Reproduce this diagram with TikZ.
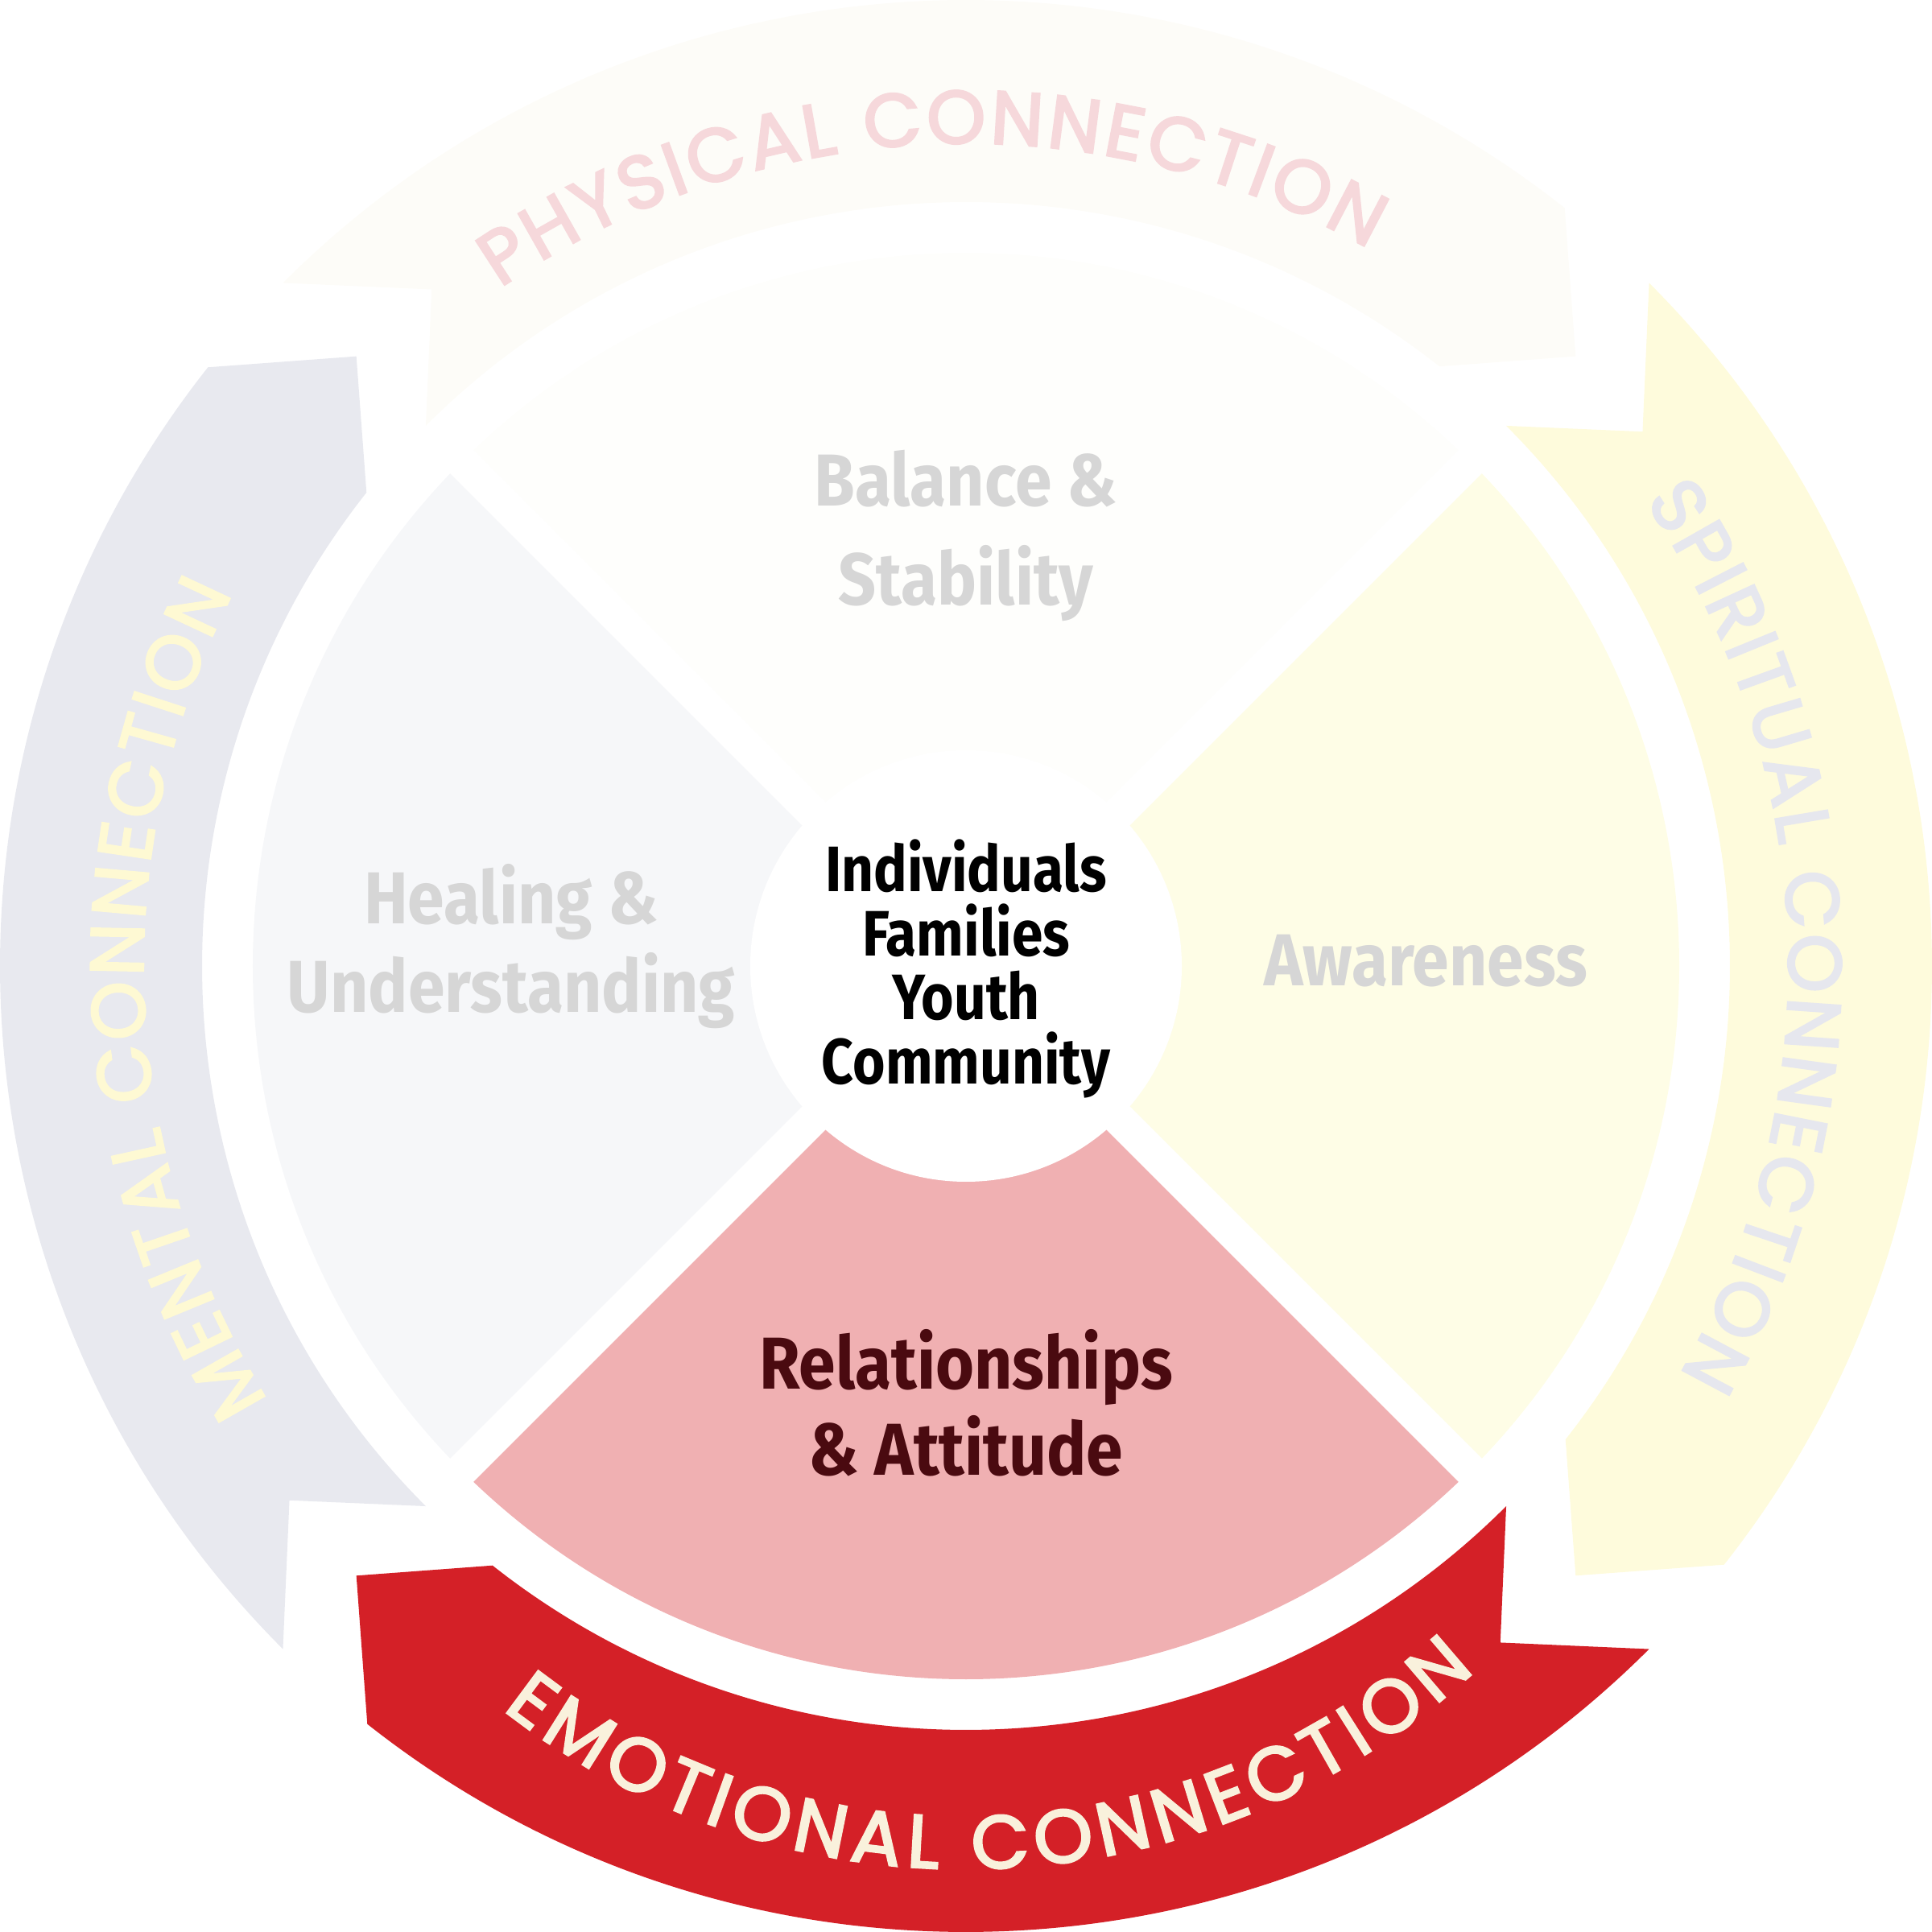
\documentclass[tikz,border=0pt]{standalone}
\usepackage{fontspec}
\setmainfont{Fira Sans}
\newfontfamily\lblfont{Fira Sans}[FakeStretch=0.9]
\newfontfamily\hubfont{Fira Sans}[FakeStretch=0.87]
\newfontfamily\ringfont{Poppins}[FakeBold=3]
\usetikzlibrary{decorations.text,calc}
\definecolor{emoArrow}{HTML}{D42027}
\definecolor{emoText}{HTML}{F9F1DC}
\definecolor{emoSector}{HTML}{F0B0B2}
\definecolor{emoLabel}{HTML}{4A0A10}
\definecolor{menArrow}{HTML}{E8E9EF}
\definecolor{menText}{HTML}{FEF9D3}
\definecolor{menSector}{HTML}{F6F7F9}
\definecolor{phyArrow}{HTML}{FDFCF8}
\definecolor{phyText}{HTML}{F6D8DB}
\definecolor{phySector}{HTML}{FEFEFC}
\definecolor{spiArrow}{HTML}{FEFBDC}
\definecolor{spiText}{HTML}{E6E7EE}
\definecolor{spiSector}{HTML}{FEFDE6}
\definecolor{greyLabel}{HTML}{D6D6D6}
\tikzset{
  seclabel/.style={font=\lblfont\bfseries\fontsize{26}{28}\selectfont, text=greyLabel, inner sep=0, anchor=base},
  hublabel/.style={font=\hubfont\bfseries\fontsize{22.7}{24}\selectfont, text=black, inner sep=0, anchor=base},
  ringtext/.style n args={2}{decorate, decoration={text along path, text color=#1,
      text={|\ringfont\fontsize{26.5}{28}\selectfont|#2}, text align={fit to path}}},
  gapline/.style={draw=white, line width=0.41cm}
}
\begin{document}
\begin{tikzpicture}
\useasboundingbox (-12,-12) rectangle (12,12);
% ring arrows (clockwise): tail corners at t, notch at t-6.7, head base at h+6.7, tip at h
\fill[phyArrow] (135:12) arc[start angle=135, end angle=51.7, radius=12] -- (45:10.71) -- (51.7:9.49) arc[start angle=51.7, end angle=135, radius=9.49] -- (128.3:10.71) -- cycle;
\fill[spiArrow] (45:12) arc[start angle=45, end angle=-38.3, radius=12] -- (-45:10.71) -- (-38.3:9.49) arc[start angle=-38.3, end angle=45, radius=9.49] -- (38.3:10.71) -- cycle;
\fill[emoArrow] (315:12) arc[start angle=315, end angle=231.7, radius=12] -- (225:10.71) -- (231.7:9.49) arc[start angle=231.7, end angle=315, radius=9.49] -- (308.3:10.71) -- cycle;
\fill[menArrow] (225:12) arc[start angle=225, end angle=141.7, radius=12] -- (135:10.71) -- (141.7:9.49) arc[start angle=141.7, end angle=225, radius=9.49] -- (218.3:10.71) -- cycle;
% sectors
\fill[phySector] (0,0) -- (45:8.86) arc[start angle=45, end angle=135, radius=8.86] -- cycle;
\fill[menSector] (0,0) -- (135:8.86) arc[start angle=135, end angle=225, radius=8.86] -- cycle;
\fill[emoSector] (0,0) -- (225:8.86) arc[start angle=225, end angle=315, radius=8.86] -- cycle;
\fill[spiSector] (0,0) -- (-45:8.86) arc[start angle=-45, end angle=45, radius=8.86] -- cycle;
\path[gapline] (135:9.2) -- (315:9.2);
\path[gapline] (45:9.2) -- (225:9.2);
\node[circle, fill=white, minimum size=5.36cm, inner sep=0] (hub) at (0,0) {};
% hub labels
\node[hublabel] (ind) at (0,0.92) {Individuals};
\node[hublabel] (fam) at (0,0.12) {Families};
\node[hublabel] (you) at (0,-0.67) {Youth};
\node[hublabel] (com) at (0,-1.47) {Community};
% sector labels
\node[seclabel] (bal1) at (0,5.71) {Balance \&};
\node[seclabel] (bal2) at (0,4.48) {Stability};
\node[seclabel] (heal1) at (-5.65,0.52) {Healing \&};
\node[seclabel] (heal2) at (-5.65,-0.58) {Understanding};
\node[seclabel] (awa) at (5.71,-0.245) {Awareness};
\node[seclabel, text=emoLabel] (rel1) at (0,-5.25) {Relationships};
\node[seclabel, text=emoLabel] (rel2) at (0,-6.32) {\& Attitude};
% ring labels
\path[ringtext={phyText}{PHYSICAL CONNECTION}] (124.5:10.22) arc[start angle=124.5, end angle=60.7, radius=10.22];
\path[ringtext={spiText}{SPIRITUAL CONNECTION}] (34.4:10.22) arc[start angle=34.4, end angle=-29.8, radius=10.22];
\path[ringtext={menText}{MENTAL CONNECTION}] (211.9:10.22) arc[start angle=211.9, end angle=153.1, radius=10.22];
\path[ringtext={emoText}{EMOTIONAL CONNECTION}] ($(0,-1.867)+(232:9.35)$) arc[start angle=232, end angle=312.5, radius=9.35];
\end{tikzpicture}
\end{document}
